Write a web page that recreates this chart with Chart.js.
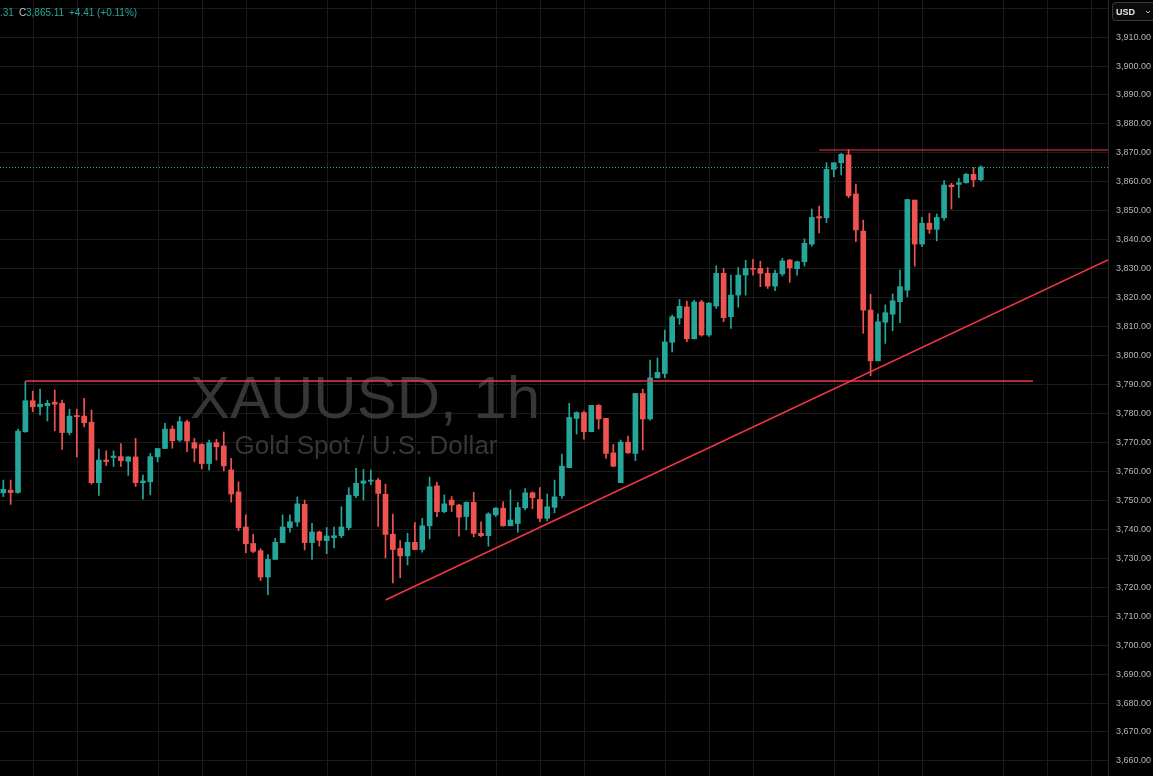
<!DOCTYPE html>
<html>
<head>
<meta charset="utf-8">
<title>XAUUSD, 1h</title>
<script src="https://cdn.jsdelivr.net/npm/chart.js@4.4.1/dist/chart.umd.min.js"></script>
<style>
  html, body { margin: 0; padding: 0; background: #000; overflow: hidden; }
  #wrap { position: relative; width: 1153px; height: 776px; }
</style>
</head>
<body>
<div id="wrap"><canvas id="chart" width="1153" height="776"></canvas></div>
<script>
// 1h candles, bar 0 = leftmost visible bar
const opens = [
  3752.6, 3753.5, 3752.7, 3773.7, 3784.4, 3782.3, 3782.7, 3783.9, 3783.5, 3773.4,
  3779.3, 3779.1, 3777.0, 3756.1, 3763.9, 3764.8, 3765.1, 3763.5, 3765.0, 3756.1,
  3756.4, 3765.0, 3767.9, 3774.6, 3770.8, 3777.1, 3769.9, 3769.3, 3762.7, 3769.9,
  3768.8, 3760.5, 3752.9, 3740.8, 3735.1, 3732.6, 3723.5, 3729.6, 3735.4, 3740.6,
  3742.5, 3748.6, 3735.4, 3739.1, 3736.1, 3737.1, 3737.8, 3740.6, 3751.6, 3755.9,
  3756.6, 3757.0, 3752.1, 3738.3, 3733.4, 3730.8, 3735.5, 3733.0, 3741.2, 3755.0,
  3746.1, 3750.1, 3748.4, 3744.4, 3749.3, 3738.6, 3737.8, 3745.0, 3747.3, 3741.2,
  3742.0, 3747.4, 3752.6, 3750.3, 3743.8, 3747.6, 3751.6, 3761.3, 3778.3, 3780.3,
  3773.7, 3782.8, 3778.3, 3766.4, 3756.1, 3770.1, 3766.2, 3786.9, 3778.1, 3792.3,
  3793.8, 3804.6, 3813.0, 3816.8, 3805.8, 3818.5, 3807.1, 3817.1, 3828.4, 3813.4,
  3820.9, 3827.8, 3830.1, 3830.1, 3828.4, 3824.0, 3828.2, 3833.0, 3830.0, 3832.4,
  3838.5, 3848.0, 3847.6, 3864.3, 3866.6, 3869.3, 3855.8, 3843.0, 3815.7, 3798.2,
  3811.5, 3814.3, 3818.6, 3822.6, 3853.7, 3838.5, 3845.7, 3843.6, 3847.6, 3858.9,
  3859.1, 3859.7, 3862.6, 3860.7
];
const highs = [
  3757.0, 3757.0, 3774.6, 3791.0, 3787.7, 3788.4, 3784.6, 3788.1, 3784.6, 3781.5,
  3781.5, 3785.2, 3781.2, 3767.7, 3767.1, 3767.1, 3769.6, 3765.1, 3771.4, 3758.7,
  3766.2, 3767.9, 3776.6, 3775.7, 3778.9, 3777.7, 3771.4, 3769.6, 3770.8, 3771.1,
  3773.6, 3764.5, 3756.4, 3745.0, 3738.3, 3733.3, 3731.3, 3736.9, 3745.0, 3745.0,
  3751.2, 3750.1, 3742.1, 3739.4, 3740.6, 3740.8, 3747.8, 3754.4, 3761.1, 3760.7,
  3760.5, 3757.6, 3755.6, 3745.3, 3736.1, 3738.6, 3742.3, 3743.8, 3758.0, 3756.2,
  3751.9, 3751.3, 3748.6, 3749.5, 3752.8, 3742.6, 3745.7, 3747.5, 3749.5, 3753.6,
  3749.3, 3754.1, 3752.9, 3754.4, 3752.2, 3757.0, 3766.0, 3783.5, 3780.6, 3780.8,
  3782.8, 3783.1, 3778.3, 3769.3, 3770.8, 3772.2, 3786.9, 3788.4, 3798.4, 3799.2,
  3808.8, 3814.0, 3819.4, 3818.8, 3819.1, 3819.1, 3818.3, 3831.0, 3830.1, 3827.8,
  3830.4, 3832.9, 3833.2, 3832.6, 3830.4, 3829.5, 3833.6, 3833.2, 3832.6, 3840.3,
  3850.6, 3851.6, 3866.6, 3866.6, 3869.8, 3871.2, 3859.2, 3846.8, 3821.2, 3814.3,
  3817.5, 3821.3, 3829.5, 3853.9, 3853.7, 3847.7, 3849.1, 3848.9, 3860.4, 3859.5,
  3861.2, 3862.9, 3865.0, 3865.5
];
const lows = [
  3751.3, 3748.6, 3752.5, 3773.5, 3780.6, 3779.5, 3777.4, 3774.0, 3767.6, 3772.6,
  3765.0, 3775.4, 3755.6, 3751.7, 3762.0, 3761.7, 3761.7, 3758.6, 3754.8, 3750.4,
  3751.9, 3763.3, 3767.9, 3768.0, 3770.3, 3766.8, 3763.3, 3760.9, 3760.4, 3763.9,
  3760.2, 3749.4, 3739.5, 3731.9, 3731.9, 3722.3, 3717.4, 3729.6, 3735.4, 3739.0,
  3741.0, 3732.9, 3729.6, 3734.2, 3731.6, 3733.6, 3737.1, 3739.8, 3750.9, 3750.1,
  3755.4, 3741.0, 3730.1, 3721.5, 3723.3, 3727.7, 3732.9, 3732.1, 3736.7, 3744.4,
  3745.7, 3746.1, 3737.6, 3739.8, 3737.4, 3737.4, 3734.2, 3744.4, 3741.1, 3741.2,
  3739.0, 3746.7, 3747.1, 3742.6, 3742.9, 3745.7, 3750.7, 3761.3, 3772.9, 3771.1,
  3773.7, 3774.6, 3764.5, 3761.6, 3756.1, 3766.2, 3763.7, 3767.4, 3777.7, 3792.3,
  3792.3, 3801.3, 3810.8, 3804.8, 3805.8, 3806.7, 3806.6, 3816.3, 3811.7, 3809.4,
  3816.7, 3820.9, 3827.8, 3823.8, 3823.2, 3822.4, 3827.5, 3825.3, 3827.8, 3830.9,
  3837.8, 3842.4, 3845.9, 3861.8, 3862.4, 3854.5, 3839.3, 3807.7, 3793.0, 3798.2,
  3804.2, 3808.6, 3811.4, 3820.3, 3830.9, 3837.6, 3842.2, 3839.6, 3846.8, 3850.6,
  3854.5, 3859.5, 3858.3, 3860.31
];
const closes = [
  3753.8, 3752.7, 3773.9, 3784.4, 3782.3, 3783.2, 3783.5, 3783.2, 3773.4, 3779.1,
  3778.9, 3776.8, 3756.1, 3763.9, 3763.4, 3765.3, 3763.7, 3765.0, 3756.1, 3756.7,
  3765.1, 3767.9, 3774.6, 3770.6, 3777.2, 3770.5, 3768.0, 3762.7, 3769.9, 3768.5,
  3761.9, 3752.2, 3740.6, 3735.0, 3732.4, 3723.5, 3729.6, 3735.5, 3740.8, 3742.6,
  3748.8, 3735.4, 3739.1, 3736.2, 3737.7, 3737.8, 3740.8, 3751.8, 3755.9, 3756.7,
  3757.0, 3752.4, 3738.2, 3733.0, 3730.8, 3735.5, 3733.0, 3741.2, 3754.7, 3746.1,
  3748.8, 3748.4, 3744.2, 3749.3, 3738.6, 3737.8, 3745.3, 3747.3, 3741.2, 3743.2,
  3747.5, 3752.6, 3750.9, 3743.8, 3747.8, 3751.2, 3761.8, 3778.6, 3780.3, 3773.7,
  3782.8, 3778.1, 3766.2, 3761.8, 3770.1, 3766.4, 3786.9, 3778.1, 3792.3, 3794.2,
  3804.7, 3813.4, 3817.0, 3805.8, 3818.5, 3807.1, 3818.1, 3828.4, 3813.1, 3820.9,
  3827.8, 3830.1, 3829.8, 3828.4, 3824.0, 3828.4, 3832.7, 3830.3, 3832.4, 3838.8,
  3847.7, 3847.5, 3864.3, 3866.6, 3869.5, 3855.2, 3843.4, 3815.7, 3798.2, 3811.7,
  3814.8, 3818.9, 3823.8, 3853.9, 3838.5, 3845.7, 3843.6, 3847.7, 3858.9, 3858.3,
  3859.7, 3862.6, 3860.7, 3865.11
];

// Drawings on the chart (bar index / price)
const supportLine = [{ x: 3, y: 3791.2 }, { x: 140.1, y: 3791.2 }];
const resistanceLine = [{ x: 111, y: 3871.0 }, { x: 152, y: 3871.0 }];
const trendLine = [{ x: 52, y: 3715.6 }, { x: 150.3, y: 3833.0 }];
const lastPrice = 3865.11;

// Axes
const priceMin = 3654.8;
const priceMax = 3922.8;
const priceStep = 10;
const barMin = -0.45;
const barMax = 150.3;
const timeGridBars = [4, 10, 21, 27, 33, 44, 50, 56, 67, 73, 79, 90, 96, 102, 113, 119, 125, 136, 142, 148];

// Colors
const UP = '#26a69a';
const DOWN = '#ef5350';
const LINE_RED = '#f23645';
const GRID = '#1a1a1a';
const AXIS_TEXT = '#b2b5be';
const FONT = '"Liberation Sans", Arial, sans-serif';

function candleColor(ctx) {
  const i = ctx.dataIndex;
  return closes[i] >= opens[i] ? UP : DOWN;
}

function formatPrice(v) {
  return Number(v).toLocaleString('en-US', { minimumFractionDigits: 2, maximumFractionDigits: 2 });
}

// Time grid lines (session boundaries) through the x scale
const timeGrid = {
  id: 'timeGrid',
  beforeDatasetsDraw(chart) {
    const { ctx: c, chartArea: a } = chart;
    const xs = chart.scales.x;
    c.save();
    c.strokeStyle = GRID;
    c.lineWidth = 1;
    timeGridBars.forEach(v => {
      const px = Math.round(xs.getPixelForValue(v)) + 0.5;
      c.beginPath();
      c.moveTo(px, a.top);
      c.lineTo(px, a.bottom);
      c.stroke();
    });
    c.restore();
  }
};

// Watermark behind the candles
const watermark = {
  id: 'watermark',
  beforeDatasetsDraw(chart) {
    const c = chart.ctx;
    c.save();
    c.fillStyle = '#363636';
    c.textAlign = 'center';
    c.textBaseline = 'alphabetic';
    c.font = `60px ${FONT}`;
    c.fillText('XAUUSD, 1h', 365, 418);
    c.font = `26px ${FONT}`;
    c.fillText('Gold Spot / U.S. Dollar', 366, 454);
    c.restore();
  }
};

// Last price dotted line, snapped to the pixel grid
const lastPriceLine = {
  id: 'lastPriceLine',
  beforeDatasetsDraw(chart) {
    const { ctx: c, chartArea: a } = chart;
    const py = Math.round(chart.scales.y.getPixelForValue(lastPrice)) + 0.5;
    c.save();
    c.strokeStyle = UP;
    c.lineWidth = 1;
    c.setLineDash([1, 2]);
    c.beginPath();
    c.moveTo(a.left, py);
    c.lineTo(a.right, py);
    c.stroke();
    c.restore();
  }
};

// Legend line + currency button
const overlay = {
  id: 'overlay',
  afterDraw(chart) {
    const c = chart.ctx;
    c.save();
    c.textBaseline = 'alphabetic';
    c.font = `10px ${FONT}`;
    c.fillStyle = UP;
    c.fillText('.31', 0, 16);
    c.fillStyle = '#c8c8c8';
    c.fillText('C', 19, 16);
    c.fillStyle = UP;
    c.fillText('3,865.11', 26, 16);
    c.fillText('+4.41', 69, 16);
    c.fillText('(+0.11%)', 97, 16);

    // USD button
    c.fillStyle = '#0b0b0b';
    c.strokeStyle = '#3a3a3a';
    c.lineWidth = 1;
    c.beginPath();
    c.roundRect(1112.5, 2.5, 44, 18, 3);
    c.fill();
    c.stroke();
    c.fillStyle = '#e6e6e6';
    c.font = `bold 9px ${FONT}`;
    c.fillText('USD', 1116, 15);
    c.strokeStyle = '#bbbbbb';
    c.beginPath();
    c.moveTo(1146, 11);
    c.lineTo(1148, 13);
    c.lineTo(1150, 11);
    c.stroke();
    c.restore();
  }
};

const barIdx = opens.map((_, i) => i);

new Chart(document.getElementById('chart'), {
  type: 'bar',
  data: {
    datasets: [
      {
        type: 'line',
        data: supportLine,
        borderColor: LINE_RED,
        borderWidth: 1.5,
        pointRadius: 0,
        order: 0
      },
      {
        type: 'line',
        data: resistanceLine,
        borderColor: LINE_RED,
        borderWidth: 1,
        pointRadius: 0,
        order: 0
      },
      {
        type: 'line',
        data: trendLine,
        borderColor: LINE_RED,
        borderWidth: 1.5,
        pointRadius: 0,
        order: 0
      },
      {
        // candle bodies
        data: barIdx.map(i => ({ x: i, y: [opens[i], closes[i]] })),
        backgroundColor: candleColor,
        barThickness: 5,
        minBarLength: 1,
        grouped: false,
        order: 1
      },
      {
        // wicks
        data: barIdx.map(i => ({ x: i, y: [lows[i], highs[i]] })),
        backgroundColor: candleColor,
        barThickness: 1,
        grouped: false,
        order: 2
      }
    ]
  },
  options: {
    responsive: false,
    animation: false,
    layout: { padding: 0 },
    plugins: {
      legend: { display: false },
      tooltip: { enabled: false }
    },
    scales: {
      x: {
        type: 'linear',
        min: barMin,
        max: barMax,
        offset: false,
        border: { display: false },
        grid: { display: false },
        ticks: { display: false },
        afterFit: s => { s.height = 0; s.paddingLeft = 0; s.paddingRight = 0; }
      },
      y: {
        position: 'right',
        min: priceMin,
        max: priceMax,
        border: { color: '#2a2a2a' },
        grid: { color: GRID, drawTicks: false },
        ticks: {
          stepSize: priceStep,
          includeBounds: false,
          color: AXIS_TEXT,
          padding: 8,
          font: { size: 9, family: FONT },
          callback: v => formatPrice(v)
        },
        afterFit: s => { s.width = 45; s.paddingTop = 0; s.paddingBottom = 0; }
      }
    }
  },
  plugins: [timeGrid, watermark, lastPriceLine, overlay]
});
</script>
</body>
</html>
